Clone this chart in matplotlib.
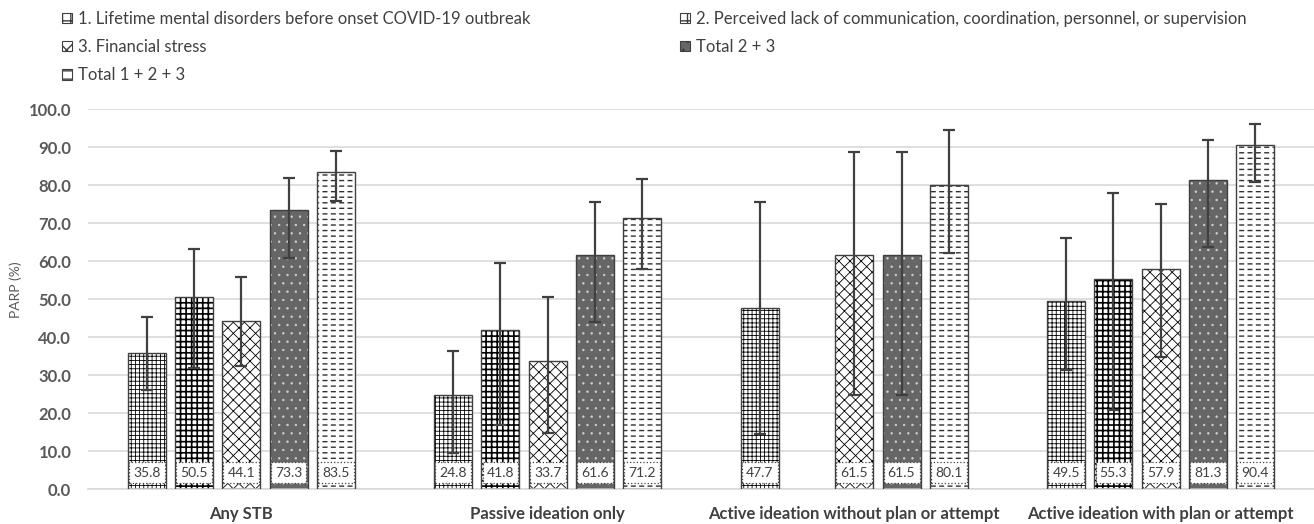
import numpy as np
import matplotlib.pyplot as plt
from matplotlib.patches import Patch

plt.rcParams['font.family'] = ['Lato', 'DejaVu Sans']

# Data
groups = ['Any STB', 'Passive ideation only',
          'Active ideation without plan or attempt', 'Active ideation with plan or attempt']
series = ['1. Lifetime mental disorders before onset COVID-19 outbreak',
          '2. Perceived lack of communication, coordination, personnel, or supervision',
          '3. Financial stress',
          'Total 2 + 3',
          'Total 1 + 2 + 3']

parp_1 = [35.8, 24.8, 47.7, 49.5]
lo_1 = [26.0, 9.5, 14.5, 31.3]
hi_1 = [45.2, 36.3, 75.5, 66.0]

parp_2 = [50.5, 41.8, np.nan, 55.3]
lo_2 = [31.8, 16.8, np.nan, 20.8]
hi_2 = [63.2, 59.6, np.nan, 77.8]

parp_3 = [44.1, 33.7, 61.5, 57.9]
lo_3 = [32.4, 14.7, 24.7, 34.7]
hi_3 = [55.7, 50.6, 88.8, 74.9]

parp_23 = [73.3, 61.6, 61.5, 81.3]
lo_23 = [60.8, 44.0, 24.7, 63.7]
hi_23 = [81.9, 75.4, 88.8, 91.9]

parp_123 = [83.5, 71.2, 80.1, 90.4]
lo_123 = [75.8, 57.9, 62.1, 80.8]
hi_123 = [89.0, 81.7, 94.6, 96.1]

values = [parp_1, parp_2, parp_3, parp_23, parp_123]
lows = [lo_1, lo_2, lo_3, lo_23, lo_123]
highs = [hi_1, hi_2, hi_3, hi_23, hi_123]

# fill style per series: (facecolor, hatch, hatch colour, hatch lw)
styles = [('white', '++++', 'black', 0.6),
          ('white', '+++', 'black', 1.2),
          ('white', 'xxx', 'black', 0.6),
          ('#666666', '..', '#d0d0d0', 0.5),
          ('white', '---', '#303030', 1.0)]

edge = '#404040'
fig = plt.figure(figsize=(13.14, 5.24), dpi=100)
ax = fig.add_axes([88/1314, 35/524, 1226/1314, 380/524])

x = np.arange(len(groups))
step = 0.1543
width = 0.124

def hatched_bars(xpos, vals, fc, hatch, hc, hlw):
    bars = ax.bar(xpos, vals, width, color=fc, edgecolor=hc, linewidth=0, hatch=hatch, zorder=2)
    for b in bars:
        if hasattr(b, 'set_hatch_linewidth'):
            b.set_hatch_linewidth(hlw)
    return bars

for i in range(5):
    xpos = x + (i - 2) * step
    vals = np.array(values[i], dtype=float)
    fc, hatch, hc, hlw = styles[i]
    with plt.rc_context({'hatch.linewidth': hlw}):
        hatched_bars(xpos, vals, fc, hatch, hc, hlw)
        if i == 4:
            # break the horizontal lines into dashes
            hatched_bars(xpos, vals, 'none', '||', 'white', 2.4)
    ax.bar(xpos, vals, width, color='none', edgecolor=edge, linewidth=1.0, zorder=3)
    err = np.array([vals - np.array(lows[i]), np.array(highs[i]) - vals])
    ax.errorbar(xpos, vals, yerr=err, fmt='none', ecolor=edge, elinewidth=1.6,
                capsize=4, capthick=1.6, zorder=4)
    for xp, v in zip(xpos, vals):
        if np.isnan(v):
            continue
        ax.text(xp, 4.3, f'{v:.1f}', ha='center', va='center', fontsize=10, color='#404040', zorder=5,
                bbox=dict(boxstyle='square,pad=0.3', fc='white', ec='#404040', ls=':', lw=0.9))

ax.set_xlim(-0.5, 3.5)
ax.set_ylim(0, 100)
ax.set_yticks(np.arange(0, 101, 10))
ax.set_yticklabels([f'{v:.1f}' for v in np.arange(0, 101, 10)], fontweight='bold', fontsize=12, color='#595959')
ax.set_xticks(x)
ax.set_xticklabels(groups, fontweight='bold', fontsize=12, color='#404040')
ax.tick_params(length=0)
ax.tick_params(axis='y', pad=12)
ax.tick_params(axis='x', pad=12)
ax.grid(axis='y', color='#d9d9d9', linewidth=1.2, zorder=0)
ax.set_axisbelow(True)
for s in ['top', 'right', 'left']:
    ax.spines[s].set_visible(False)
ax.spines['bottom'].set_color('#d9d9d9')
ax.spines['bottom'].set_linewidth(1.2)

fig.text(16/1314, 1 - 290/524, 'PARP (%)', rotation=90, ha='center', va='center', fontsize=10, color='#595959')

handles = []
for i in range(5):
    fc, hatch, hc, hlw = styles[i]
    handles.append(Patch(facecolor=fc, edgecolor=edge, hatch=hatch[:2], linewidth=0.8, label=series[i]))
order = [0, 2, 4, 1, 3]
fig.legend([handles[k] for k in order], [series[k] for k in order], ncol=2, loc='upper left',
           bbox_to_anchor=(47/1314, 1.008), frameon=False, fontsize=12, handlelength=0.6,
           handleheight=0.6, handletextpad=0.35, labelspacing=0.73, columnspacing=9.0, labelcolor='#404040')

fig.savefig('out.png', dpi=100)
